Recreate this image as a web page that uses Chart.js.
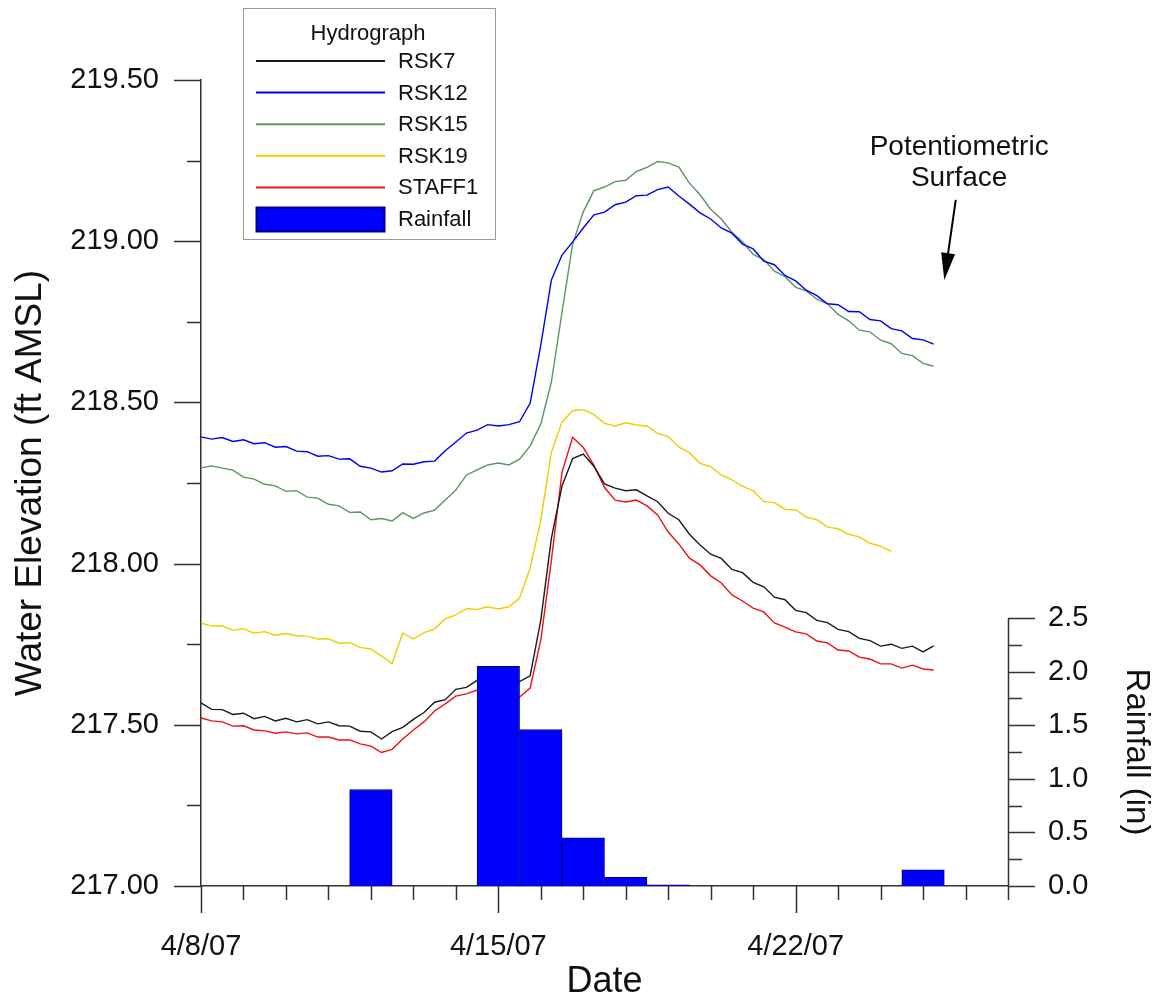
<!DOCTYPE html>
<html>
<head>
<meta charset="utf-8">
<title>Hydrograph</title>
<script src="https://cdn.jsdelivr.net/npm/chart.js@4.4.1/dist/chart.umd.min.js"></script>
<style>
  html, body { margin: 0; padding: 0; background: #fff; }
  #wrap { position: relative; width: 1158px; height: 999px; }
</style>
</head>
<body>
<div id="wrap"><canvas id="hydroChart" width="1158" height="999"></canvas></div>
<script>
// days after 4/8/07 00:00
const days = [0, 0.25, 0.5, 0.75, 1, 1.25, 1.5, 1.75, 2, 2.25,
  2.5, 2.75, 3, 3.25, 3.5, 3.75, 4, 4.25, 4.5, 4.75,
  5, 5.25, 5.5, 5.75, 6, 6.25, 6.5, 6.75, 7, 7.25,
  7.5, 7.75, 8, 8.25, 8.5, 8.75, 9, 9.25, 9.5, 9.75,
  10, 10.25, 10.5, 10.75, 11, 11.25, 11.5, 11.75, 12, 12.25,
  12.5, 12.75, 13, 13.25, 13.5, 13.75, 14, 14.25, 14.5, 14.75,
  15, 15.25, 15.5, 15.75, 16, 16.25, 16.5, 16.75, 17, 17.25];

const dateTickDays = [0, 7, 14];
const dateLabels = ['4/8/07', '4/15/07', '4/22/07'];

// water elevation, ft AMSL
const rsk7 = [217.568, 217.548, 217.547, 217.532, 217.536, 217.519, 217.526, 217.512, 217.520, 217.509,
  217.516, 217.503, 217.509, 217.497, 217.496, 217.480, 217.478, 217.456, 217.479, 217.492,
  217.517, 217.538, 217.570, 217.578, 217.610, 217.616, 217.638, 217.629, 217.635, 217.626,
  217.634, 217.652, 217.825, 218.079, 218.241, 218.326, 218.340, 218.302, 218.247, 218.234,
  218.226, 218.229, 218.210, 218.192, 218.156, 218.136, 218.091, 218.058, 218.029, 218.016,
  217.982, 217.972, 217.942, 217.928, 217.896, 217.888, 217.855, 217.848, 217.824, 217.817,
  217.796, 217.789, 217.768, 217.761, 217.744, 217.750, 217.737, 217.744, 217.726, 217.745];

const rsk12 = [218.393, 218.386, 218.391, 218.379, 218.384, 218.372, 218.375, 218.361, 218.363, 218.349,
  218.347, 218.333, 218.335, 218.324, 218.325, 218.302, 218.296, 218.284, 218.288, 218.309,
  218.308, 218.316, 218.318, 218.350, 218.377, 218.405, 218.414, 218.431, 218.427, 218.431,
  218.440, 218.498, 218.678, 218.880, 218.957, 218.998, 219.041, 219.082, 219.090, 219.113,
  219.121, 219.141, 219.143, 219.160, 219.168, 219.140, 219.115, 219.088, 219.069, 219.041,
  219.025, 218.991, 218.976, 218.938, 218.927, 218.894, 218.877, 218.848, 218.831, 218.806,
  218.803, 218.782, 218.781, 218.757, 218.753, 218.729, 218.722, 218.698, 218.694, 218.681];

const rsk15 = [218.297, 218.303, 218.296, 218.290, 218.268, 218.262, 218.246, 218.241, 218.224, 218.226,
  218.206, 218.203, 218.184, 218.179, 218.159, 218.160, 218.136, 218.140, 218.132, 218.158,
  218.140, 218.157, 218.166, 218.197, 218.228, 218.275, 218.291, 218.306, 218.312, 218.306,
  218.324, 218.365, 218.433, 218.564, 218.780, 218.991, 219.091, 219.157, 219.168, 219.185,
  219.189, 219.216, 219.229, 219.247, 219.243, 219.230, 219.180, 219.144, 219.099, 219.069,
  219.028, 218.998, 218.959, 218.943, 218.907, 218.890, 218.857, 218.846, 218.820, 218.806,
  218.773, 218.753, 218.724, 218.719, 218.693, 218.682, 218.652, 218.645, 218.621, 218.612];

const rsk19 = [217.816, 217.806, 217.807, 217.793, 217.798, 217.784, 217.789, 217.778, 217.783, 217.776,
  217.775, 217.766, 217.767, 217.753, 217.755, 217.740, 217.735, 217.713, 217.690, 217.785,
  217.766, 217.786, 217.797, 217.829, 217.841, 217.860, 217.858, 217.866, 217.859, 217.866,
  217.893, 217.986, 218.135, 218.346, 218.439, 218.474, 218.478, 218.462, 218.435, 218.427,
  218.437, 218.430, 218.427, 218.404, 218.394, 218.361, 218.344, 218.311, 218.301, 218.274,
  218.260, 218.240, 218.226, 218.193, 218.189, 218.168, 218.167, 218.144, 218.136, 218.113,
  218.108, 218.091, 218.083, 218.063, 218.054, 218.038, null, null, null, null];

const staff1 = [217.521, 217.512, 217.509, 217.496, 217.497, 217.484, 217.481, 217.474, 217.478, 217.472,
  217.475, 217.462, 217.462, 217.453, 217.453, 217.441, 217.434, 217.414, 217.424, 217.456,
  217.484, 217.509, 217.543, 217.565, 217.589, 217.596, 217.608, 217.599, 217.599, 217.586,
  217.586, 217.614, 217.763, 218.011, 218.284, 218.392, 218.360, 218.305, 218.236, 218.197,
  218.191, 218.197, 218.179, 218.151, 218.098, 218.061, 218.017, 217.996, 217.962, 217.940,
  217.903, 217.884, 217.862, 217.850, 217.816, 217.803, 217.788, 217.782, 217.760, 217.754,
  217.732, 217.729, 217.710, 217.704, 217.689, 217.689, 217.676, 217.685, 217.673, 217.670];

// daily rainfall, inches
const rainDays = [4, 7, 8, 9, 10, 11, 17];
const rainfall = [0.90, 2.05, 1.46, 0.45, 0.08, 0.01, 0.15];

const FONT = "'Liberation Sans', Arial, Helvetica, sans-serif";

function toPoints(vals) {
  return days.map(function(d, i) { return {x: d, y: vals[i]}; });
}

function lineSet(label, vals, color) {
  return {
    type: 'line',
    label: label,
    data: toPoints(vals),
    borderColor: color,
    borderWidth: 1.4,
    pointRadius: 0,
    tension: 0,
    spanGaps: false,
    yAxisID: 'y',
    order: 1
  };
}

const isHalf = function(v) { return Math.abs(v * 2 - Math.round(v * 2)) < 1e-6; };

// tick marks, rainfall axis line, legend and notes
const hydroDecor = {
  id: 'hydroDecor',
  afterDraw: function(chart) {
    const ctx = chart.ctx;
    const a = chart.chartArea;
    const sx = chart.scales.x, sy = chart.scales.y, sy2 = chart.scales.y2;

    ctx.save();
    ctx.strokeStyle = '#333';
    ctx.lineWidth = 1.5;
    ctx.beginPath();
    sx.ticks.forEach(function(t) {
      const px = Math.round(sx.getPixelForValue(t.value)) + 0.5;
      const len = dateTickDays.indexOf(t.value) >= 0 ? 27 : 14;
      ctx.moveTo(px, a.bottom); ctx.lineTo(px, a.bottom + len);
    });
    sy.ticks.forEach(function(t) {
      const py = Math.round(sy.getPixelForValue(t.value)) + 0.5;
      const len = isHalf(t.value) ? 27 : 14;
      ctx.moveTo(a.left - len, py); ctx.lineTo(a.left, py);
    });
    const rx = Math.round(a.right) + 0.5;
    ctx.moveTo(rx, sy2.getPixelForValue(0)); ctx.lineTo(rx, sy2.getPixelForValue(2.5));
    sy2.ticks.forEach(function(t) {
      const py = Math.round(sy2.getPixelForValue(t.value)) + 0.5;
      const len = isHalf(t.value) ? 27 : 14;
      ctx.moveTo(a.right, py); ctx.lineTo(a.right + len, py);
    });
    ctx.stroke();

    // right axis title
    ctx.fillStyle = '#111';
    ctx.font = '33px ' + FONT;
    ctx.textAlign = 'center';
    ctx.textBaseline = 'middle';
    ctx.save();
    ctx.translate(1136, (sy2.getPixelForValue(0) + sy2.getPixelForValue(2.5)) / 2);
    ctx.rotate(Math.PI / 2);
    ctx.fillText('Rainfall (in)', 0, 0);
    ctx.restore();

    // note + arrow
    ctx.font = '28px ' + FONT;
    ctx.fillText('Potentiometric', sx.getPixelForValue(17.85), sy.getPixelForValue(219.29));
    ctx.fillText('Surface', sx.getPixelForValue(17.85), sy.getPixelForValue(219.195));
    const x0 = sx.getPixelForValue(17.77), y0 = sy.getPixelForValue(219.128);
    const x1 = sx.getPixelForValue(17.5), y1 = sy.getPixelForValue(218.88);
    const ang = Math.atan2(y1 - y0, x1 - x0);
    ctx.strokeStyle = '#000';
    ctx.lineWidth = 2;
    ctx.beginPath();
    ctx.moveTo(x0, y0);
    ctx.lineTo(x1 - 20 * Math.cos(ang), y1 - 20 * Math.sin(ang));
    ctx.stroke();
    ctx.fillStyle = '#000';
    ctx.beginPath();
    ctx.moveTo(x1, y1);
    ctx.lineTo(x1 - 27 * Math.cos(ang) + 7 * Math.sin(ang), y1 - 27 * Math.sin(ang) - 7 * Math.cos(ang));
    ctx.lineTo(x1 - 27 * Math.cos(ang) - 7 * Math.sin(ang), y1 - 27 * Math.sin(ang) + 7 * Math.cos(ang));
    ctx.closePath();
    ctx.fill();

    // legend box
    const bx = 243, by = 8, bw = 252, bh = 231;
    ctx.fillStyle = '#fff';
    ctx.fillRect(bx, by, bw, bh);
    ctx.strokeStyle = '#999';
    ctx.lineWidth = 1;
    ctx.strokeRect(bx + 0.5, by + 0.5, bw, bh);
    ctx.fillStyle = '#111';
    ctx.font = '22px ' + FONT;
    ctx.textAlign = 'center';
    ctx.fillText('Hydrograph', bx + 125, by + 26);
    ctx.textAlign = 'left';
    const sets = chart.data.datasets.slice(1).concat([chart.data.datasets[0]]);
    sets.forEach(function(ds, i) {
      const ry = by + 53 + i * 31.6;
      if (ds.type === 'bar') {
        ctx.fillStyle = ds.backgroundColor;
        ctx.fillRect(bx + 13, ry - 12, 129, 25);
        ctx.strokeStyle = '#000080';
        ctx.strokeRect(bx + 13.5, ry - 11.5, 128, 24);
      } else {
        ctx.strokeStyle = ds.borderColor;
        ctx.lineWidth = 2;
        ctx.beginPath();
        ctx.moveTo(bx + 13, ry); ctx.lineTo(bx + 142, ry);
        ctx.stroke();
      }
      ctx.fillStyle = '#111';
      ctx.fillText(ds.label, bx + 155, ry + 1);
    });
    ctx.restore();
  }
};

const ctx = document.getElementById('hydroChart').getContext('2d');
const chart = new Chart(ctx, {
  type: 'line',
  data: {
    datasets: [
      {
        type: 'bar',
        label: 'Rainfall',
        data: rainDays.map(function(d, i) { return {x: d, y: rainfall[i]}; }),
        backgroundColor: '#0000ff',
        borderColor: '#000070',
        borderWidth: 1,
        barPercentage: 1,
        categoryPercentage: 1,
        yAxisID: 'y2',
        order: 0
      },
      lineSet('RSK7', rsk7, '#1a1a1a'),
      lineSet('RSK12', rsk12, '#0000ee'),
      lineSet('RSK15', rsk15, '#5b9563'),
      lineSet('RSK19', rsk19, '#f2cc00'),
      lineSet('STAFF1', staff1, '#ee1111')
    ]
  },
  options: {
    responsive: false,
    animation: false,
    layout: { padding: { top: 80, left: 0, right: 0, bottom: 0 } },
    plugins: { legend: { display: false }, tooltip: { enabled: false } },
    scales: {
      x: {
        type: 'linear',
        min: 0,
        max: 19,
        offset: false,
        afterFit: function(s) { s.height = 113; },
        grid: { display: false, drawTicks: false },
        border: { display: true, color: '#333', width: 1.5 },
        ticks: {
          stepSize: 1,
          autoSkip: false,
          maxRotation: 0,
          padding: 44,
          color: '#111',
          font: { family: FONT, size: 29 },
          callback: function(v) {
            const k = dateTickDays.indexOf(v);
            return k >= 0 ? dateLabels[k] : '';
          }
        },
        title: {
          display: true,
          text: 'Date',
          color: '#111',
          font: { family: FONT, size: 36 },
          padding: { top: 0, bottom: -5 }
        }
      },
      y: {
        position: 'left',
        min: 217,
        max: 219.5,
        afterFit: function(s) { s.width = 201; },
        grid: { display: false, drawTicks: false },
        border: { display: true, color: '#333', width: 1.5 },
        ticks: {
          stepSize: 0.25,
          padding: 42,
          color: '#111',
          font: { family: FONT, size: 29 },
          callback: function(v) { return isHalf(v) ? v.toFixed(2) : ''; }
        },
        title: {
          display: true,
          text: 'Water Elevation (ft AMSL)',
          color: '#111',
          font: { family: FONT, size: 37 },
          padding: { top: 9, bottom: 0 }
        }
      },
      y2: {
        position: 'right',
        min: 0,
        max: 7.52,
        afterFit: function(s) { s.width = 150; },
        afterBuildTicks: function(s) {
          s.ticks = s.ticks.filter(function(t) { return t.value <= 2.5 + 1e-6; });
        },
        grid: { display: false, drawTicks: false },
        border: { display: false },
        ticks: {
          stepSize: 0.25,
          padding: 40,
          color: '#111',
          font: { family: FONT, size: 29 },
          callback: function(v) { return isHalf(v) ? v.toFixed(1) : ''; }
        }
      }
    }
  },
  plugins: [hydroDecor]
});
</script>
</body>
</html>
